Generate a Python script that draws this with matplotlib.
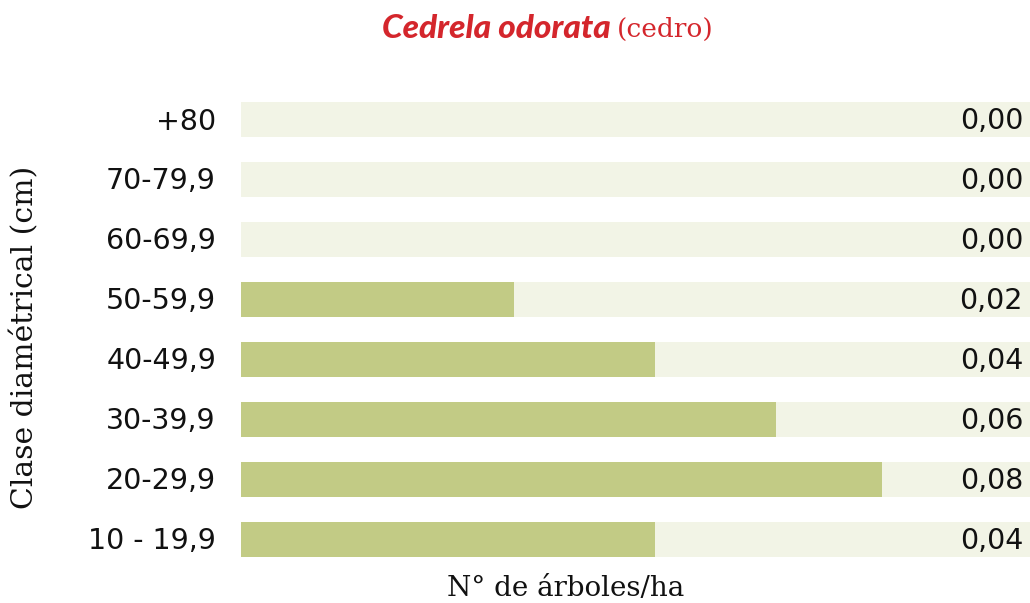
import matplotlib
matplotlib.use("Agg")
import matplotlib.pyplot as plt

categories = ["+80", "70-79,9", "60-69,9", "50-59,9", "40-49,9", "30-39,9", "20-29,9", "10 - 19,9"]
# bar lengths (axis full width = 0.1)
values = [0.0, 0.0, 0.0, 0.0346, 0.0525, 0.0678, 0.0812, 0.0525]
value_labels = ["0,00", "0,00", "0,00", "0,02", "0,04", "0,06", "0,08", "0,04"]
xmax = 0.1

GREEN = "#C2CB85"
BG = "#F2F4E6"
RED = "#D4262C"
INK = "#111111"

W, H = 1030, 603
fig = plt.figure(figsize=(W / 100, H / 100), dpi=100)
ax = fig.add_axes([241 / W, (H - 569.5) / H, (W - 241) / W, 480 / H])

n = len(categories)
ypos = list(range(n))[::-1]
bh = 35 / 60
ax.barh(ypos, [xmax] * n, height=bh, color=BG, edgecolor="none")
ax.barh(ypos, values, height=bh, color=GREEN, edgecolor="none")
ax.set_xlim(0, xmax)
ax.set_ylim(-0.5, n - 0.5)
ax.axis("off")

sans = "DejaVu Sans"
for y, lab in zip(ypos, value_labels):
    ax.annotate(lab, xy=(xmax, y), xycoords="data", xytext=(-7, -2),
                textcoords="offset pixels", ha="right", va="center",
                fontsize=20.5, family=sans, color=INK)
for y, cat in zip(ypos, categories):
    ax.annotate(cat, xy=(0, y), xycoords="data", xytext=(-25, -2),
                textcoords="offset pixels", ha="right", va="center",
                fontsize=20.5, family=sans, color=INK)

fig.text(25 / W, 1 - 337 / H, "Clase diamétrical (cm)", rotation=90,
         ha="center", va="center", fontsize=21.5, family="DejaVu Serif", color=INK)
fig.text(566 / W, 1 - 588 / H, "N° de árboles/ha", ha="center", va="center",
         fontsize=20, family="DejaVu Serif", color=INK)

fig.text(611 / W, 1 - 29 / H, "Cedrela odorata", ha="right", va="center",
         fontsize=24, family="Lato", weight="black", style="italic", color=RED)
fig.text(617 / W, 1 - 29 / H, "(cedro)", ha="left", va="center",
         fontsize=19, family="DejaVu Serif", color=RED)

fig.savefig("out.png", dpi=100)
